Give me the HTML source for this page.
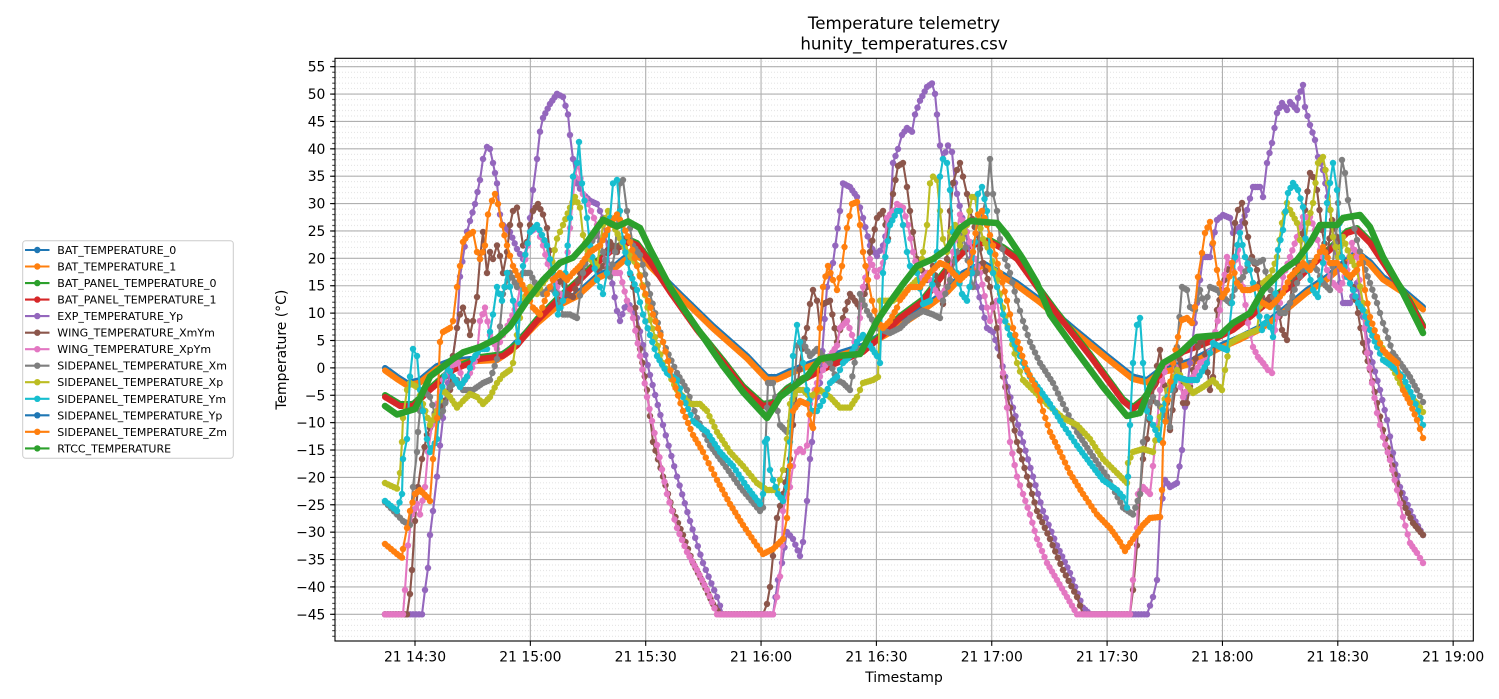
<!DOCTYPE html>
<html><head><meta charset="utf-8"><style>
html,body{margin:0;padding:0;background:#fff;}
svg{display:block;}
text{font-family:"DejaVu Sans","Liberation Sans",sans-serif;fill:#000;}
</style></head><body>
<svg id="chart" xmlns="http://www.w3.org/2000/svg" width="1499" height="699" viewBox="0 0 1499 699">
<defs>
<pattern id="mg" patternUnits="userSpaceOnUse" x="0" y="365.142" width="1200" height="5.476"><line x1="0" x2="1200" y1="2.738" y2="2.738" stroke="#d8d8d8" stroke-width="0.7" stroke-dasharray="1,2"/></pattern>
<pattern id="mt" patternUnits="userSpaceOnUse" x="0" y="365.142" width="10" height="5.476"><rect x="0" y="2.34" width="10" height="0.8" fill="#000"/></pattern>
<marker id="k4" viewBox="-4 -4 8 8" refX="0" refY="0" markerWidth="8" markerHeight="8" markerUnits="userSpaceOnUse"><circle r="3.2" fill="#9467bd"/></marker>
<marker id="k5" viewBox="-4 -4 8 8" refX="0" refY="0" markerWidth="8" markerHeight="8" markerUnits="userSpaceOnUse"><circle r="3.2" fill="#8c564b"/></marker>
<marker id="k6" viewBox="-4 -4 8 8" refX="0" refY="0" markerWidth="8" markerHeight="8" markerUnits="userSpaceOnUse"><circle r="3.2" fill="#e377c2"/></marker>
<marker id="k7" viewBox="-4 -4 8 8" refX="0" refY="0" markerWidth="8" markerHeight="8" markerUnits="userSpaceOnUse"><circle r="3.2" fill="#7f7f7f"/></marker>
<marker id="k8" viewBox="-4 -4 8 8" refX="0" refY="0" markerWidth="8" markerHeight="8" markerUnits="userSpaceOnUse"><circle r="3.2" fill="#bcbd22"/></marker>
<marker id="k9" viewBox="-4 -4 8 8" refX="0" refY="0" markerWidth="8" markerHeight="8" markerUnits="userSpaceOnUse"><circle r="3.2" fill="#17becf"/></marker>
<marker id="k1" viewBox="-4 -4 8 8" refX="0" refY="0" markerWidth="8" markerHeight="8" markerUnits="userSpaceOnUse"><circle r="3.2" fill="#ff7f0e"/></marker>
<clipPath id="cp"><rect x="335" y="58.3" width="1138.3" height="582.7"/></clipPath>
</defs>

<rect x="335" y="58.3" width="1138.3" height="582.7" fill="url(#mg)"/>
<g stroke="#b0b0b0" stroke-width="1.1">
<line x1="335" x2="1473.3" y1="66.7" y2="66.7"/>
<line x1="335" x2="1473.3" y1="94.08" y2="94.08"/>
<line x1="335" x2="1473.3" y1="121.46" y2="121.46"/>
<line x1="335" x2="1473.3" y1="148.84" y2="148.84"/>
<line x1="335" x2="1473.3" y1="176.22" y2="176.22"/>
<line x1="335" x2="1473.3" y1="203.6" y2="203.6"/>
<line x1="335" x2="1473.3" y1="230.98" y2="230.98"/>
<line x1="335" x2="1473.3" y1="258.36" y2="258.36"/>
<line x1="335" x2="1473.3" y1="285.74" y2="285.74"/>
<line x1="335" x2="1473.3" y1="313.12" y2="313.12"/>
<line x1="335" x2="1473.3" y1="340.5" y2="340.5"/>
<line x1="335" x2="1473.3" y1="367.88" y2="367.88"/>
<line x1="335" x2="1473.3" y1="395.26" y2="395.26"/>
<line x1="335" x2="1473.3" y1="422.64" y2="422.64"/>
<line x1="335" x2="1473.3" y1="450.02" y2="450.02"/>
<line x1="335" x2="1473.3" y1="477.4" y2="477.4"/>
<line x1="335" x2="1473.3" y1="504.78" y2="504.78"/>
<line x1="335" x2="1473.3" y1="532.16" y2="532.16"/>
<line x1="335" x2="1473.3" y1="559.54" y2="559.54"/>
<line x1="335" x2="1473.3" y1="586.92" y2="586.92"/>
<line x1="335" x2="1473.3" y1="614.3" y2="614.3"/>
<line x1="415" x2="415" y1="58.3" y2="641"/>
<line x1="530.35" x2="530.35" y1="58.3" y2="641"/>
<line x1="645.7" x2="645.7" y1="58.3" y2="641"/>
<line x1="761.05" x2="761.05" y1="58.3" y2="641"/>
<line x1="876.4" x2="876.4" y1="58.3" y2="641"/>
<line x1="991.75" x2="991.75" y1="58.3" y2="641"/>
<line x1="1107.1" x2="1107.1" y1="58.3" y2="641"/>
<line x1="1222.45" x2="1222.45" y1="58.3" y2="641"/>
<line x1="1337.8" x2="1337.8" y1="58.3" y2="641"/>
<line x1="1453.15" x2="1453.15" y1="58.3" y2="641"/>
</g>

<g clip-path="url(#cp)" fill="none" stroke-linejoin="round" stroke-linecap="round">
<polyline id="bat0" stroke="#1f77b4" stroke-width="6" points="385,368 397,376.6 407,383 420,380 437,366 450,361 470,359 497,357.6 510,349 537,321 557,304 577,294 597,276 610,270 623,259 633,252 645,258 650,264 680,294 713,326 747,356 767,377 777,377 790,371 803,366 830,356 863,345.5 890,330 923,308 947,290 963,273 983,263 997,271 1017,283 1040,300 1073,328 1107,356 1133,376.6 1147,380 1160,370 1170,368 1193,360 1217,347 1240,337 1260,327 1283,310 1307,290 1327,277 1343,263 1357,252 1370,262 1383,277 1403,290 1423,307"/>
<polyline stroke="#ff7f0e" stroke-width="6" transform="translate(0,2.5)" points="385,368 397,376.6 407,383 420,380 437,366 450,361 470,359 497,357.6 510,349 537,321 557,304 577,294 597,276 610,270 623,259 633,252 645,258 650,264 680,294 713,326 747,356 767,377 777,377 790,371 803,366 830,356 863,345.5 890,330 923,308 947,290 963,273 983,263 997,271 1017,283 1040,300 1073,328 1107,356 1133,376.6 1147,380 1160,370 1170,368 1193,360 1217,347 1240,337 1260,327 1283,310 1307,290 1327,277 1343,263 1357,252 1370,262 1383,277 1403,290 1423,307"/>
<polyline stroke="#2ca02c" stroke-width="6" transform="translate(0,-2)" points="385,397 400,406 413,406 430,390 453,370 480,359 503,356 517,345.5 537,321 557,300.7 577,283 597,263 610,252 630,242 637,245 650,262 670,292 697,330 723,362 743,388 763,406 773,404 787,390 803,380 830,366 863,352 883,335 900,318 923,301 950,266 970,245.5 990,242 1003,249 1017,259 1037,287 1057,314 1090,356 1123,401 1133,409 1143,401 1155,385 1165,365 1183,352 1207,343 1233,330 1250,317 1267,303 1290,287 1310,267 1330,250 1347,233 1357,230 1370,243 1390,273 1410,303 1423,327"/>
<polyline stroke="#d62728" stroke-width="6" points="385,397 400,406 413,406 430,390 453,370 480,359 503,356 517,345.5 537,321 557,300.7 577,283 597,263 610,252 630,242 637,245 650,262 670,292 697,330 723,362 743,388 763,406 773,404 787,390 803,380 830,366 863,352 883,335 900,318 923,301 950,266 970,245.5 990,242 1003,249 1017,259 1037,287 1057,314 1090,356 1123,401 1133,409 1143,401 1155,385 1165,365 1183,352 1207,343 1233,330 1250,317 1267,303 1290,287 1310,267 1330,250 1347,233 1357,230 1370,243 1390,273 1410,303 1423,327"/>
<polyline class="pm" stroke="#9467bd" stroke-width="2.1" marker-start="url(#k4)" marker-mid="url(#k4)" marker-end="url(#k4)" points="385,614.3 413,614.3 422,614.3 425,590 428,568 430,535 433,511 437,476.6 440,445.5 443,418 448,383 453,356 457,328 460,276.6 467,231.7 470,221 475,204 480,180 483,159 487,147 490,149 493,163 495,173 497,183.4 500,214.5 503,225 510,232 517,249 523,259 527,245.5 530,218 533,190 537,159 540,131.7 543,118 550,104 557,93.8 563,97 568,114.5 570,135 573,159 577,183.4 583,194 590,200.7 597,204 603,218 610,269.7 617,311 620,321 627,300.7 637,318 643,345 650,375 663,425 677,476.6 690,521 703,563 717,597 723,614.3 773,614.3 778,580 782,563 787,532 793,539 800,556 803,542 807,501 810,459 812,442 815,411 820,383 827,287 833,263 840,211 843,183.4 850,187 857,197 863,218 870,245.5 877,256 883,245.5 890,218 893,163 898,149 902,135 907,128 912,131.7 915,114.5 920,100.7 927,86.9 932,83.4 935,93.8 937,114.5 940,145.5 943,159 948,145.5 952,152 955,183 957,193.8 965,230 977,287 987,328 993,332 1000,356 1013,407.6 1023,442 1033,476.6 1043,511 1057,545.5 1070,573 1083,607.6 1090,614.3 1147,614.3 1153,597 1157,580 1160,517 1165,480 1170,487 1177,483 1182,450 1185,407 1190,363 1197,303 1203,257 1210,257 1217,220 1223,215 1230,218 1233,233 1240,227 1247,210 1253,187 1260,187 1263,197 1267,163 1272,143 1277,113 1282,103 1287,110 1290,102 1297,110 1298,98 1303,85 1305,107 1310,125 1315,140 1318,157 1323,170 1330,210 1337,263 1343,303 1350,303 1357,283 1363,317 1370,353 1380,390 1387,420 1393,453 1400,487 1413,517 1423,535"/>
<polyline class="pm" stroke="#8c564b" stroke-width="2.1" marker-start="url(#k5)" marker-mid="url(#k5)" marker-end="url(#k5)" points="385,614.3 407,614.3 410,594 412,570 415,521 418,487 422,459 427,435 433,421 440,411 450,390 453,356 457,328 460,314.5 463,307.6 467,321 470,335 473,321 477,297 480,259 483,232 487,273 490,252 493,259 497,245.5 500,256 503,273 507,252 510,225 513,211 517,207.6 520,225 523,245.5 527,242 530,225 533,211 538,204 543,214.5 547,228 552,273 557,287 562,276.6 567,294 573,297 580,273 590,252 597,269.7 603,266 610,242 617,252 623,238.6 633,287 640,349 647,390 653,442 663,476.6 673,511 683,535 693,563 703,583 713,604 720,614.3 763,614.3 767,604 770,587 773,556 777,518 783,494 790,459 793,425 797,390 802,349 807,328 810,304 813,290 817,300.7 820,328 823,304 830,300.7 837,342 843,318 850,294 860,307.6 867,287 870,252 877,218 883,211 888,238.6 893,194 898,166 903,163 907,187 910,211 913,232 917,259 920,266 927,280 933,266 940,294 943,304 947,259 950,211 953,183 957,170 960,163 963,176.6 967,194 970,211 977,235 983,263 990,287 993,304 997,328 1000,356 1003,376.6 1010,407.6 1017,442 1027,476.6 1037,511 1050,539 1063,570 1077,597 1083,614.3 1130,614.3 1133,590 1137,545.5 1140,494 1143,459 1147,439 1152,401 1157,366 1160,350 1167,403 1170,430 1175,390 1180,360 1183,403 1187,403 1193,370 1198,347 1203,337 1210,390 1213,377 1217,310 1222,290 1227,270 1232,267 1235,223 1238,210 1242,203 1245,223 1248,237 1252,257 1257,270 1262,297 1265,303 1270,297 1277,303 1282,330 1287,340 1290,303 1293,277 1300,257 1305,210 1310,173 1313,177 1317,190 1322,230 1327,257 1332,220 1337,237 1342,257 1347,270 1353,287 1358,313 1363,343 1370,370 1377,403 1383,430 1390,457 1397,483 1403,503 1413,523 1423,535"/>
<polyline class="pm" stroke="#e377c2" stroke-width="2.1" marker-start="url(#k6)" marker-mid="url(#k6)" marker-end="url(#k6)" points="385,614.3 403,614.3 405,590 408,545.5 412,514.5 417,504 420,514.5 425,487 428,452 432,425 437,404 443,380 450,366 458,363 463,383 470,373 477,356 480,321 485,307.6 490,335 497,349 503,335 510,321 517,304 523,273 530,232 537,228 543,245.5 550,273 557,287 563,300.7 570,228 575,176.6 578,163 583,194 588,204 597,225 603,252 610,273 620,273 627,300.7 633,318 640,356 647,397 657,445 667,494 677,528 687,552 697,570 707,590 717,614.3 773,614.3 777,597 780,576.5 782,545.5 783,511 787,494 790,487 793,466 797,452 800,449 803,452 807,445.5 810,404 817,383 823,370 830,356 837,345.5 840,328 847,321 857,349 863,287 870,259 877,276.6 883,263 887,218 893,211 897,204 903,207.6 908,225 913,252 920,280 927,273 933,287 940,297 947,287 953,252 960,214.5 967,232 973,252 980,273 987,307.6 990,321 993,307.6 997,300.7 1000,321 1003,373 1007,407.6 1010,442 1017,476.6 1023,494 1030,514.5 1037,539 1047,563 1057,580 1067,597 1077,614.3 1130,614.3 1133,580 1137,528 1138,494 1143,487 1150,494 1153,466 1157,425 1160,390 1167,363 1173,357 1183,397 1193,377 1200,363 1207,360 1213,343 1220,310 1227,257 1233,270 1238,250 1243,287 1248,323 1253,347 1258,357 1263,363 1268,370 1272,373 1275,330 1280,303 1283,277 1290,257 1297,237 1303,217 1310,217 1315,230 1320,250 1327,270 1333,283 1340,290 1347,270 1352,243 1357,257 1362,303 1367,353 1372,383 1377,413 1383,437 1390,460 1397,490 1403,517 1410,543 1417,553 1423,563"/>
<polyline class="pm" stroke="#7f7f7f" stroke-width="2.1" marker-start="url(#k7)" marker-mid="url(#k7)" marker-end="url(#k7)" points="385,502 397,514.5 403,521 410,525 413,487 417,452 418,432 420,411 423,390 430,397 437,421 443,411 450,387 457,380 463,390 473,390 483,383 490,380 497,359 503,294 510,273 517,287 523,273 530,273 537,287 543,294 550,287 557,294 563,314.5 570,314.5 577,318 583,273 590,245.5 597,232 603,252 610,276.6 615,252 620,183.4 623,180 627,211 633,245.5 640,255 650,294 663,342 677,373 687,390 697,418 710,445.5 723,463 740,487 760,511 763,507.6 767,407.6 768,383 773,383 780,425 787,432 793,411 797,345.5 803,342 810,356 817,349 823,356 830,363 837,380 843,383 850,390 857,349 860,294 867,311 877,328 890,333 900,328 910,318 923,311 933,314.5 940,318 943,300.7 950,280 957,252 963,235 970,273 973,287 977,273 980,225 983,211 987,194 990,159 993,194 997,211 1000,239 1005,259 1010,273 1017,300.7 1023,321 1030,342 1040,363 1053,383 1063,404 1077,432 1090,452 1107,476.6 1123,507.6 1133,514.5 1140,494 1143,442 1147,407.6 1153,397 1157,403 1163,410 1170,427 1173,390 1177,347 1182,287 1187,290 1190,307 1195,310 1200,290 1205,307 1210,287 1217,290 1223,297 1230,303 1237,283 1243,277 1250,260 1257,263 1263,260 1268,283 1273,297 1280,313 1285,313 1290,303 1297,283 1303,270 1310,263 1317,270 1323,283 1330,290 1335,243 1338,203 1342,160 1345,173 1348,200 1352,217 1357,240 1363,263 1370,283 1377,303 1383,323 1393,353 1403,367 1410,377 1417,390 1423,402"/>
<polyline class="pm" stroke="#bcbd22" stroke-width="2.1" marker-start="url(#k8)" marker-mid="url(#k8)" marker-end="url(#k8)" points="385,483 397,488.6 400,473 402,442 403,418 407,390 410,383 417,387 423,404 430,425 437,411 443,390 450,397 457,407.6 463,401 470,394 477,397 483,404 490,397 497,383 503,375 510,370 513,363 517,335 523,300.7 530,287 537,294 543,283 550,273 557,238.6 563,225 570,207.6 575,197 580,207.6 583,235 590,259 597,266 603,225 608,211 613,225 620,238.6 627,252 637,265 645,295 650,320 663,363 677,390 690,404 700,404 707,411 717,432 730,452 743,466 757,483 767,490 777,490 783,470 787,439 790,404 797,390 803,390 810,397 820,390 830,397 840,407.6 850,407.6 857,397 863,383 873,380 878,377 880,300.7 883,300.7 893,300.7 903,294 910,287 917,280 922,259 923,252 927,225 930,183.4 933,176.6 937,180 940,211 943,239 947,252 950,232 955,225 960,245.5 967,225 972,197 975,197 978,218 983,239 990,252 997,280 1003,307.6 1010,335 1017,363 1023,380 1033,390 1047,404 1063,418 1077,425 1090,439 1103,459 1117,473 1127,483 1128,463 1133,452 1143,449 1153,452 1160,417 1167,390 1173,377 1177,370 1183,380 1193,393 1203,387 1213,380 1222,390 1225,370 1230,343 1240,337 1250,333 1257,330 1263,283 1270,277 1277,257 1282,223 1287,203 1290,210 1297,223 1303,257 1308,223 1313,203 1318,163 1323,157 1328,183 1333,237 1338,257 1343,237 1350,257 1357,270 1363,303 1370,330 1380,343 1390,363 1400,383 1410,397 1417,403 1423,412"/>
<polyline class="pm" stroke="#17becf" stroke-width="2.1" marker-start="url(#k9)" marker-mid="url(#k9)" marker-end="url(#k9)" points="385,501 397,511 402,494 403,459 407,439 410,376.6 413,349 417,356 420,390 423,411 427,439 430,452 437,439 440,397 447,366 453,376.6 460,387 467,376.6 473,359 480,349 487,349 493,314.5 497,287 502,300.7 507,273 513,300.7 518,342 523,266 530,232 537,225 542,235 547,245.5 553,273 558,314.5 563,300.7 570,218 573,176.6 577,163 579,142 582,183.4 587,218 590,245.5 597,280 603,294 607,273 610,218 613,183.4 617,180 620,211 623,242 630,273 637,290 643,314.5 650,335 657,356 667,373 677,380 683,397 693,421 707,432 720,452 733,466 747,487 760,504 763,494 765,442 767,439 770,470 773,480 778,494 783,501 787,487 790,442 793,356 797,325 800,342 803,363 807,390 812,411 817,411 823,401 830,383 837,376.6 843,363 850,356 857,342 863,335 870,345.5 877,356 880,363 883,273 890,225 897,211 900,211 903,225 907,252 910,266 917,273 923,304 930,300.7 937,252 940,176.6 943,159 947,163 950,190 953,232 957,273 962,294 967,300.7 972,273 975,242 978,194 982,187 987,211 990,252 993,273 997,287 1003,314.5 1010,335 1017,349 1023,363 1030,376.6 1040,390 1050,404 1063,425 1077,445.5 1090,463 1103,480 1117,490 1123,497 1127,507.6 1128,476.6 1130,425 1133,363 1137,325 1140,318 1143,363 1147,411 1153,425 1160,440 1163,410 1170,390 1177,377 1187,380 1197,380 1207,363 1213,343 1220,347 1227,350 1232,303 1235,257 1240,233 1245,257 1250,270 1253,283 1257,303 1262,330 1267,317 1273,337 1278,250 1283,230 1288,193 1293,183 1298,190 1303,207 1308,270 1313,290 1318,297 1323,263 1327,203 1330,183 1333,163 1337,190 1342,257 1347,277 1353,290 1358,303 1363,310 1370,330 1377,347 1383,360 1393,367 1403,377 1413,397 1423,425"/>
<polyline class="pm" stroke="#ff7f0e" stroke-width="2.1" marker-start="url(#k1)" marker-mid="url(#k1)" marker-end="url(#k1)" points="385,544 397,554 402,557.6 403,549 407,528 410,511 415,494 420,490 427,497 430,501 433,459 437,418 440,342 443,332 450,328 453,321 457,287 460,266 463,242 468,235 473,232 477,252 480,259 485,245.5 488,214.5 492,200.7 495,194 498,204 502,225 507,245.5 513,266 520,280 527,294 533,307.6 540,314.5 547,294 553,280 560,273 567,280 573,273 580,266 590,252 600,245.5 610,225 617,214.5 623,225 630,242 637,266 643,287 653,314.5 663,342 673,380 683,411 693,435 703,452 717,480 730,504 743,525 757,545.5 763,554 773,549 783,539 787,518 790,466 793,411 800,401 807,404 812,425 813,428 817,390 820,328 823,287 828,266 833,280 837,290 842,266 847,228 852,204 857,202 860,225 863,252 868,280 872,300.7 877,321 883,328 890,321 897,307.6 900,300 910,287 920,287 930,273 940,263 947,266 953,273 960,280 967,273 973,252 978,214.5 982,211 987,225 993,245.5 1000,273 1007,300.7 1013,328 1020,349 1027,370 1037,390 1043,411 1050,432 1060,452 1070,473 1083,494 1097,514.5 1110,528 1120,542 1125,551 1133,539 1143,525 1150,518 1160,517 1162,490 1163,443 1168,400 1173,363 1178,337 1182,320 1187,318 1192,323 1195,307 1198,277 1202,253 1205,233 1210,222 1213,243 1217,270 1222,297 1227,290 1232,263 1237,283 1243,290 1250,290 1257,287 1263,303 1270,307 1277,300 1283,293 1290,277 1297,270 1303,263 1310,270 1317,257 1323,247 1330,263 1337,263 1343,270 1350,277 1357,270 1362,257 1365,290 1370,317 1377,337 1383,350 1390,357 1397,363 1403,390 1410,403 1417,420 1423,438"/>
<polyline stroke="#2ca02c" stroke-width="6.5" points="385,406 397,414.5 415,409 430,376.6 453,359 463,352.4 480,347 497,338.6 510,326.6 527,300.7 543,280 560,262.8 573,257.6 587,242 603,219.7 617,226.6 628,221.4 640,228 650,249 670,287 683,307.6 697,328 723,366 743,392 767,418 780,397 793,387 807,376.6 820,359 837,356 860,354 877,321 890,302 903,284 917,266 933,259 947,249 960,228 970,221 997,223 1007,235 1023,259 1037,283 1050,314.5 1077,352 1103,387 1127,416 1140,413 1150,387 1163,363 1180,353 1197,337 1220,335 1233,323 1250,313 1263,290 1283,270 1297,260 1310,243 1320,225 1337,225 1343,218 1360,215 1370,227 1383,257 1400,287 1413,313 1423,333"/>
</g>

<rect x="335" y="58.3" width="1138.3" height="582.7" fill="none" stroke="#000" stroke-width="1.1"/>
<rect x="332.2" y="58.3" width="2.8" height="582.7" fill="url(#mt)"/>
<g stroke="#000" stroke-width="1.1">
<line x1="330.1" x2="335" y1="66.7" y2="66.7"/>
<line x1="330.1" x2="335" y1="94.08" y2="94.08"/>
<line x1="330.1" x2="335" y1="121.46" y2="121.46"/>
<line x1="330.1" x2="335" y1="148.84" y2="148.84"/>
<line x1="330.1" x2="335" y1="176.22" y2="176.22"/>
<line x1="330.1" x2="335" y1="203.6" y2="203.6"/>
<line x1="330.1" x2="335" y1="230.98" y2="230.98"/>
<line x1="330.1" x2="335" y1="258.36" y2="258.36"/>
<line x1="330.1" x2="335" y1="285.74" y2="285.74"/>
<line x1="330.1" x2="335" y1="313.12" y2="313.12"/>
<line x1="330.1" x2="335" y1="340.5" y2="340.5"/>
<line x1="330.1" x2="335" y1="367.88" y2="367.88"/>
<line x1="330.1" x2="335" y1="395.26" y2="395.26"/>
<line x1="330.1" x2="335" y1="422.64" y2="422.64"/>
<line x1="330.1" x2="335" y1="450.02" y2="450.02"/>
<line x1="330.1" x2="335" y1="477.4" y2="477.4"/>
<line x1="330.1" x2="335" y1="504.78" y2="504.78"/>
<line x1="330.1" x2="335" y1="532.16" y2="532.16"/>
<line x1="330.1" x2="335" y1="559.54" y2="559.54"/>
<line x1="330.1" x2="335" y1="586.92" y2="586.92"/>
<line x1="330.1" x2="335" y1="614.3" y2="614.3"/>
<line x1="415" x2="415" y1="641" y2="645.9"/>
<line x1="530.35" x2="530.35" y1="641" y2="645.9"/>
<line x1="645.7" x2="645.7" y1="641" y2="645.9"/>
<line x1="761.05" x2="761.05" y1="641" y2="645.9"/>
<line x1="876.4" x2="876.4" y1="641" y2="645.9"/>
<line x1="991.75" x2="991.75" y1="641" y2="645.9"/>
<line x1="1107.1" x2="1107.1" y1="641" y2="645.9"/>
<line x1="1222.45" x2="1222.45" y1="641" y2="645.9"/>
<line x1="1337.8" x2="1337.8" y1="641" y2="645.9"/>
<line x1="1453.15" x2="1453.15" y1="641" y2="645.9"/>
</g>

<g font-size="13.9" text-anchor="end">
<text x="325.4" y="71.7">55</text>
<text x="325.4" y="99.1">50</text>
<text x="325.4" y="126.5">45</text>
<text x="325.4" y="153.8">40</text>
<text x="325.4" y="181.2">35</text>
<text x="325.4" y="208.6">30</text>
<text x="325.4" y="236">25</text>
<text x="325.4" y="263.4">20</text>
<text x="325.4" y="290.7">15</text>
<text x="325.4" y="318.1">10</text>
<text x="325.4" y="345.5">5</text>
<text x="325.4" y="372.9">0</text>
<text x="325.4" y="400.3">−5</text>
<text x="325.4" y="427.6">−10</text>
<text x="325.4" y="455">−15</text>
<text x="325.4" y="482.4">−20</text>
<text x="325.4" y="509.8">−25</text>
<text x="325.4" y="537.2">−30</text>
<text x="325.4" y="564.5">−35</text>
<text x="325.4" y="591.9">−40</text>
<text x="325.4" y="619.3">−45</text>
</g>
<g font-size="13.9" text-anchor="middle">
<text x="415" y="661.5">21 14:30</text>
<text x="530.35" y="661.5">21 15:00</text>
<text x="645.7" y="661.5">21 15:30</text>
<text x="761.05" y="661.5">21 16:00</text>
<text x="876.4" y="661.5">21 16:30</text>
<text x="991.75" y="661.5">21 17:00</text>
<text x="1107.1" y="661.5">21 17:30</text>
<text x="1222.45" y="661.5">21 18:00</text>
<text x="1337.8" y="661.5">21 18:30</text>
<text x="1453.15" y="661.5">21 19:00</text>
</g>
<text x="904" y="682" font-size="13.9" text-anchor="middle">Timestamp</text>
<text x="0" y="0" font-size="13.9" text-anchor="middle" transform="translate(286,349.7) rotate(-90)">Temperature (°C)</text>
<text x="904" y="29" font-size="16.67" text-anchor="middle">Temperature telemetry</text>
<text x="904" y="49.5" font-size="16.67" text-anchor="middle">hunity_temperatures.csv</text>

<rect x="22.7" y="240.7" width="210.6" height="217.6" rx="3" ry="3" fill="#fff" fill-opacity="0.8" stroke="#cccccc" stroke-width="1"/>
<g stroke-width="2.1">
<line x1="25" x2="49.5" y1="250" y2="250" stroke="#1f77b4"/><circle cx="37.3" cy="250" r="3.2" fill="#1f77b4"/>
<line x1="25" x2="49.5" y1="266.5" y2="266.5" stroke="#ff7f0e"/><circle cx="37.3" cy="266.5" r="3.2" fill="#ff7f0e"/>
<line x1="25" x2="49.5" y1="283.1" y2="283.1" stroke="#2ca02c"/><circle cx="37.3" cy="283.1" r="3.2" fill="#2ca02c"/>
<line x1="25" x2="49.5" y1="299.6" y2="299.6" stroke="#d62728"/><circle cx="37.3" cy="299.6" r="3.2" fill="#d62728"/>
<line x1="25" x2="49.5" y1="316.1" y2="316.1" stroke="#9467bd"/><circle cx="37.3" cy="316.1" r="3.2" fill="#9467bd"/>
<line x1="25" x2="49.5" y1="332.7" y2="332.7" stroke="#8c564b"/><circle cx="37.3" cy="332.7" r="3.2" fill="#8c564b"/>
<line x1="25" x2="49.5" y1="349.2" y2="349.2" stroke="#e377c2"/><circle cx="37.3" cy="349.2" r="3.2" fill="#e377c2"/>
<line x1="25" x2="49.5" y1="365.7" y2="365.7" stroke="#7f7f7f"/><circle cx="37.3" cy="365.7" r="3.2" fill="#7f7f7f"/>
<line x1="25" x2="49.5" y1="382.2" y2="382.2" stroke="#bcbd22"/><circle cx="37.3" cy="382.2" r="3.2" fill="#bcbd22"/>
<line x1="25" x2="49.5" y1="398.8" y2="398.8" stroke="#17becf"/><circle cx="37.3" cy="398.8" r="3.2" fill="#17becf"/>
<line x1="25" x2="49.5" y1="415.3" y2="415.3" stroke="#1f77b4"/><circle cx="37.3" cy="415.3" r="3.2" fill="#1f77b4"/>
<line x1="25" x2="49.5" y1="431.8" y2="431.8" stroke="#ff7f0e"/><circle cx="37.3" cy="431.8" r="3.2" fill="#ff7f0e"/>
<line x1="25" x2="49.5" y1="448.4" y2="448.4" stroke="#2ca02c"/><circle cx="37.3" cy="448.4" r="3.2" fill="#2ca02c"/>
</g>
<g font-size="11">
<text x="57.3" y="254">BAT_TEMPERATURE_0</text>
<text x="57.3" y="270.5">BAT_TEMPERATURE_1</text>
<text x="57.3" y="287.1">BAT_PANEL_TEMPERATURE_0</text>
<text x="57.3" y="303.6">BAT_PANEL_TEMPERATURE_1</text>
<text x="57.3" y="320.1">EXP_TEMPERATURE_Yp</text>
<text x="57.3" y="336.7">WING_TEMPERATURE_XmYm</text>
<text x="57.3" y="353.2">WING_TEMPERATURE_XpYm</text>
<text x="57.3" y="369.7">SIDEPANEL_TEMPERATURE_Xm</text>
<text x="57.3" y="386.2">SIDEPANEL_TEMPERATURE_Xp</text>
<text x="57.3" y="402.8">SIDEPANEL_TEMPERATURE_Ym</text>
<text x="57.3" y="419.3">SIDEPANEL_TEMPERATURE_Yp</text>
<text x="57.3" y="435.8">SIDEPANEL_TEMPERATURE_Zm</text>
<text x="57.3" y="452.4">RTCC_TEMPERATURE</text>
</g>
</svg>
<script>
(function(){
  var NS='http://www.w3.org/2000/svg';
  var lines=document.querySelectorAll('polyline.pm');
  for(var j=0;j<lines.length;j++){
    var pl=lines[j];
    var col=pl.getAttribute('stroke');
    var raw=pl.getAttribute('points').trim().split(/\s+/);
    var pts=[];
    for(var i=0;i<raw.length;i++){var a=raw[i].split(',');pts.push([+a[0],+a[1]]);}
    var g=document.createElementNS(NS,'g');
    g.setAttribute('fill',col);
    for(var i=0;i<pts.length-1;i++){
      var p=pts[i],q=pts[i+1],dx=q[0]-p[0],n=Math.round(dx/2.8);
      for(var k=1;k<n;k++){
        var t=k/n,c=document.createElementNS(NS,'circle');
        c.setAttribute('cx',(p[0]+dx*t).toFixed(2));
        c.setAttribute('cy',(p[1]+(q[1]-p[1])*t).toFixed(2));
        c.setAttribute('r','3.2');
        g.appendChild(c);
      }
    }
    pl.parentNode.insertBefore(g,pl.nextSibling);
  }
})();
</script>
</body></html>
